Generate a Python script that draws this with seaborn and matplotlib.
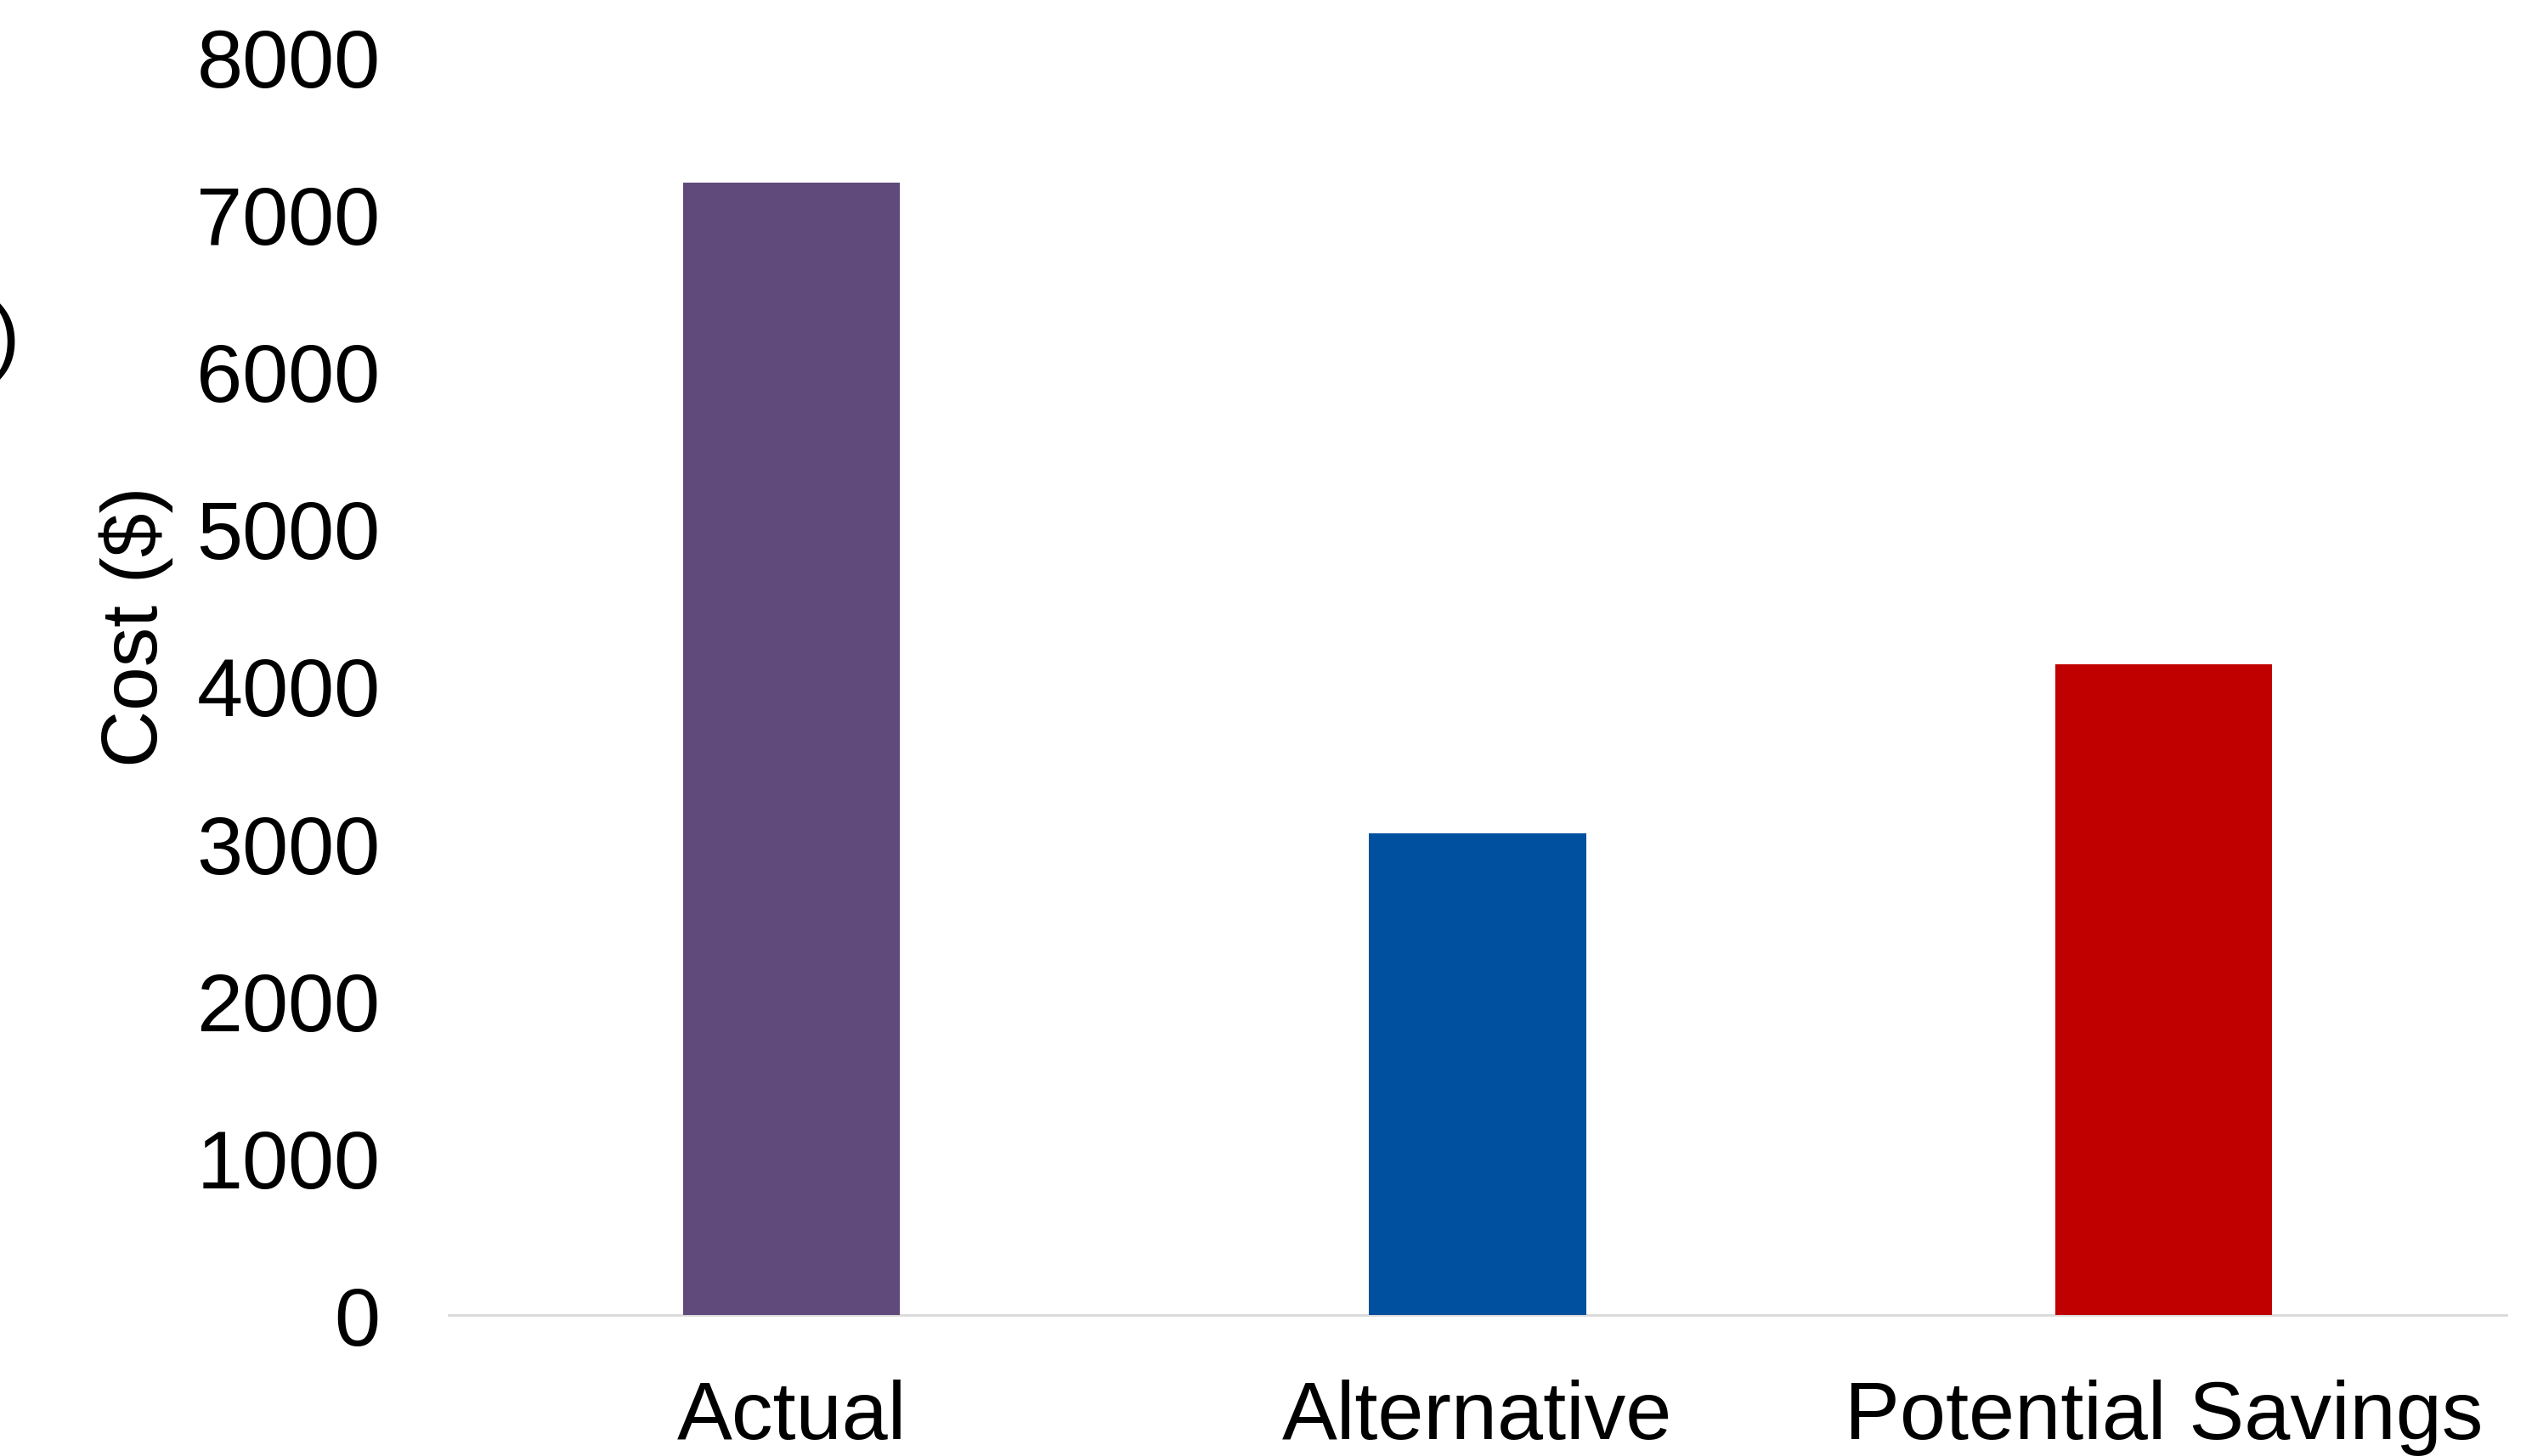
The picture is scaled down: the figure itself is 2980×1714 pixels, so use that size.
import matplotlib
matplotlib.use("Agg")
import matplotlib.pyplot as plt
import seaborn as sns
import pandas as pd

# Cost comparison data
categories = ["Actual", "Alternative", "Potential Savings"]
costs = [7200, 3060, 4140]
bar_colors = ["#604A7B", "#0050A0", "#C00000"]
y_ticks = [0, 1000, 2000, 3000, 4000, 5000, 6000, 7000, 8000]

df = pd.DataFrame({"category": categories, "cost": costs})

sns.set_theme(style="white")
plt.rcParams["font.family"] = ["Liberation Sans", "DejaVu Sans"]

fig = plt.figure(figsize=(14.9, 8.575), dpi=200)
ax = fig.add_axes([0.1772, 0.0968, 0.8127, 0.8636])

sns.barplot(
    data=df, x="category", y="cost", hue="category",
    palette=bar_colors, width=0.316, legend=False, ax=ax,
    saturation=1, linewidth=0,
)

ax.set_xlim(-0.5, 2.5)
ax.set_ylim(0, 8000)
ax.set_yticks(y_ticks)
ax.set_yticklabels([str(t) for t in y_ticks])

for side in ["top", "right", "left"]:
    ax.spines[side].set_visible(False)
ax.spines["bottom"].set_color("#D9D9D9")
ax.spines["bottom"].set_linewidth(1.0)
ax.spines["bottom"].set_zorder(0)

ax.tick_params(axis="y", length=0, pad=29, labelsize=35, labelcolor="black")
ax.tick_params(axis="x", length=0, pad=27, labelsize=35, labelcolor="black")
for lbl in ax.get_yticklabels():
    lbl.set_clip_on(False)

ax.set_xlabel("")
ax.set_ylabel("Cost ($)", fontsize=33.5, color="black", va="center")
ax.yaxis.set_label_coords(-0.152, 0.548)

# Closing parenthesis of a neighbouring label at the left edge
fig.text(23 / 2980, 1 - 402 / 1715, ")", fontsize=35, ha="right", va="center",
         color="black")

fig.savefig("out.png", dpi=200, facecolor="white")
